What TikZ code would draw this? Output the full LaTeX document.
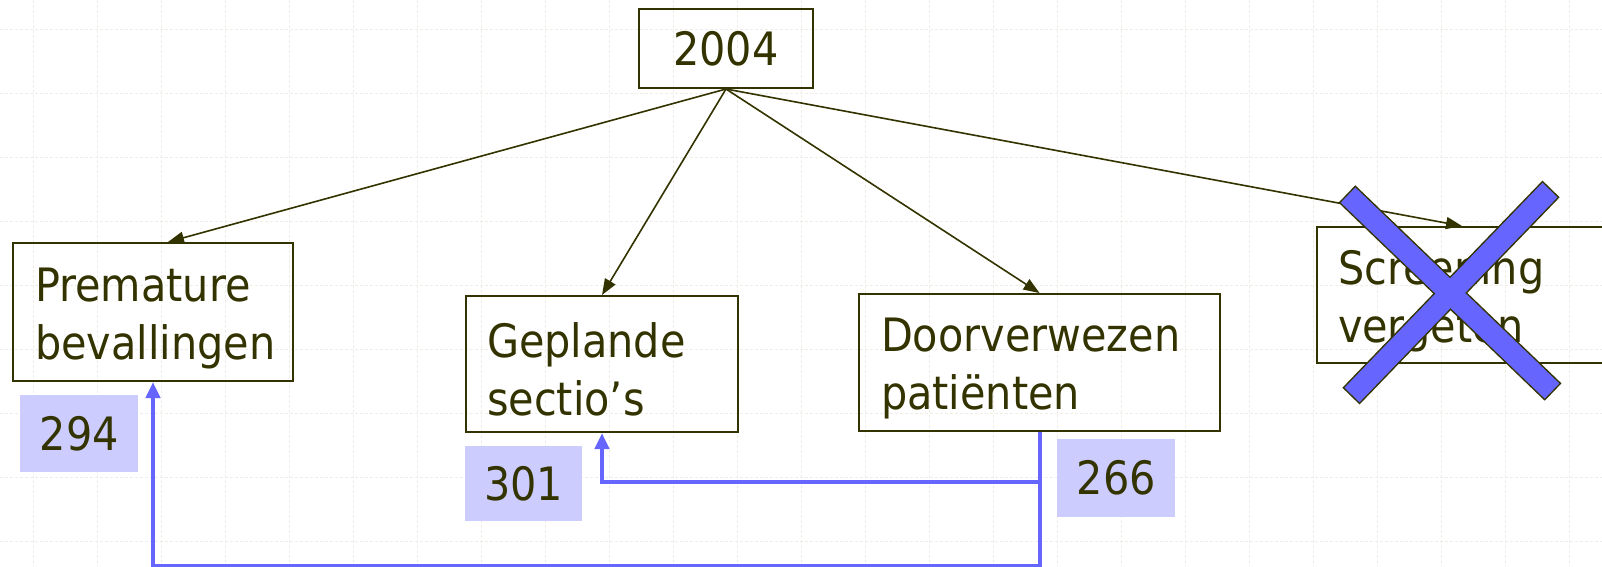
\documentclass[tikz,border=0pt]{standalone}
\usepackage{fontspec}
\setmainfont{DejaVu Sans}[FakeStretch=0.9]
\usetikzlibrary{arrows.meta,calc}
\definecolor{dkolive}{RGB}{51,51,0}
\definecolor{lblue}{RGB}{204,204,255}
\definecolor{mblue}{RGB}{102,102,255}
\definecolor{gridc}{RGB}{240,237,232}
\newcommand{\toppad}{\rule{0pt}{46pt}}
\begin{document}
\begin{tikzpicture}[x=1pt,y=-1pt,
  box/.style={draw=dkolive, line width=2pt, text=dkolive, font=\fontsize{46}{58}\selectfont, inner ysep=0pt, anchor=north west, align=left},
  lbl/.style={fill=lblue, text=dkolive, font=\fontsize{46}{58}\selectfont, inner sep=0pt, anchor=north west},
  arr/.style={draw=dkolive, line width=1.6pt, -{Triangle[length=16pt,width=12pt]}},
  bline/.style={draw=mblue, line width=4pt, -{Triangle[length=16pt,width=14pt]}},
  gridline/.style={draw=gridc, line width=1pt, dash pattern=on 3pt off 2pt},
  crossout/.style={draw=dkolive, line width=3pt, line join=miter},
  crossfill/.style={fill=mblue}
]
\useasboundingbox (0,0) rectangle (1602,566);
\clip (0,0) rectangle (1602,566);
\fill[white] (0,0) rectangle (1602,566);
% grid
\foreach \x in {33,97,...,1601} \draw[gridline] (\x,0) -- (\x,566);
\foreach \y in {29,93,...,565} \draw[gridline] (0,\y) -- (1602,\y);

% nodes
\node[box, minimum width=174pt, minimum height=79pt, inner xsep=0pt, align=center] (top) at (638,8) {2004};
\node[box, minimum height=138pt, text width=236pt, inner xsep=22pt] (prem) at (12,242) {\toppad Premature\\bevallingen};
\node[box, minimum height=136pt, text width=230pt, inner xsep=21pt] (gep) at (465,295) {\toppad Geplande\\sectio’s};
\node[box, minimum height=137pt, text width=317pt, inner xsep=22pt] (door) at (858,293) {\toppad Doorverwezen\\patiënten};
\node[box, minimum height=136pt, text width=248pt, inner xsep=21pt] (scr) at (1316,226) {\toppad Screening\\vergeten};

\node[lbl, minimum width=118pt, minimum height=77pt] (l294) at (20,395) {294};
\node[lbl, minimum width=117pt, minimum height=75pt] (l301) at (465,446) {301};
\node[lbl, minimum width=118pt, minimum height=78pt] (l266) at (1057,439) {266};

% arrows from 2004
\draw[arr] (top.south) -- ($(prem.north)+(15,0)$);
\draw[arr] (top.south) -- (gep.north);
\draw[arr] (top.south) -- (door.north);
\draw[arr] (top.south) -- (scr.north);

% blue connectors
\coordinate (j) at ($(door.south)+(0,50)$);
\draw[bline] (door.south) -- ++(0,134) -| (prem.south);
\draw[bline] (j) -| (gep.south);

% cross
\draw[crossout] (1340.7,202.6) -- (1355.3,187.4) -- (1559.3,383.4) -- (1544.7,398.6) -- cycle;
\draw[crossout] (1557.5,197.3) -- (1542.5,182.7) -- (1344.5,387.7) -- (1359.5,402.3) -- cycle;
\fill[crossfill] (1340.7,202.6) -- (1355.3,187.4) -- (1559.3,383.4) -- (1544.7,398.6) -- cycle;
\fill[crossfill] (1557.5,197.3) -- (1542.5,182.7) -- (1344.5,387.7) -- (1359.5,402.3) -- cycle;
\end{tikzpicture}
\end{document}
